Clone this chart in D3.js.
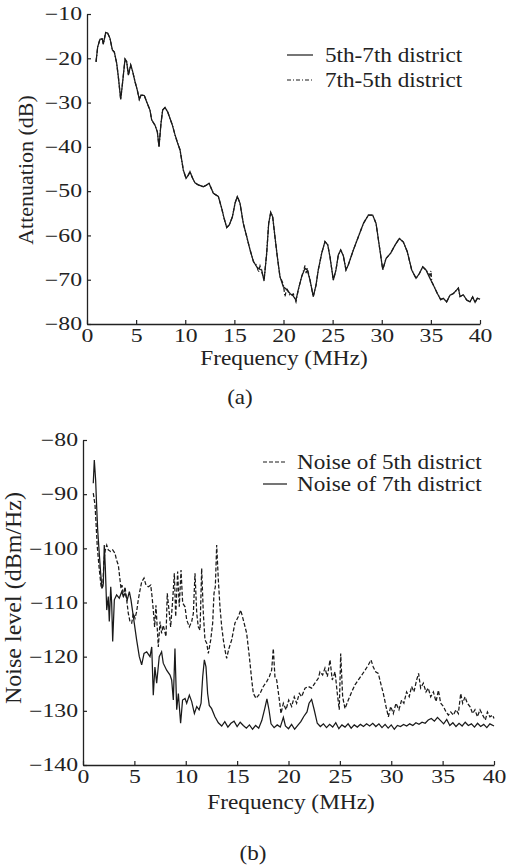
<!DOCTYPE html>
<html>
<head>
<meta charset="utf-8">
<script src="https://cdn.jsdelivr.net/npm/d3@7"></script>
<style>
  body { margin: 0; background: #fff; }
  text { font-family: "Liberation Serif", "Times New Roman", Times, serif; fill: #222; }
</style>
</head>
<body>
<svg id="fig" width="512" height="865"></svg>
<script>
// (a) attenuation, [MHz, dB]
const att57 = [[0.92,-20.8],[1.09,-17.4],[1.32,-15.7],[1.56,-15.6],[1.66,-16.8],[1.9,-14.2],[2.1,-14.3],[2.34,-15.5],[2.58,-18.1],[2.78,-18.6],[3.02,-21.1],[3.19,-24.2],[3.43,-29.3],[3.63,-25.3],[3.87,-20.2],[4.04,-20.8],[4.21,-23.8],[4.45,-21.5],[4.65,-23.0],[4.89,-25.3],[5.12,-27.2],[5.32,-29.3],[5.5,-28.3],[5.83,-28.4],[6.07,-29.8],[6.41,-31.7],[6.58,-33.9],[6.92,-35.1],[7.16,-36.6],[7.33,-40.0],[7.53,-34.7],[7.7,-31.7],[7.94,-31.1],[8.21,-32.1],[8.45,-33.6],[8.69,-35.1],[8.96,-37.3],[9.23,-39.2],[9.47,-40.7],[9.64,-43.0],[9.8,-45.2],[10.08,-47.1],[10.31,-46.4],[10.48,-45.6],[10.75,-47.1],[10.99,-48.1],[11.33,-48.6],[11.84,-49.0],[12.18,-48.6],[12.42,-48.2],[12.86,-50.5],[13.37,-51.2],[13.71,-53.9],[13.95,-56.1],[14.22,-58.2],[14.49,-57.6],[14.8,-55.8],[15.07,-52.7],[15.3,-51.2],[15.57,-52.7],[15.91,-57.3],[16.26,-60.3],[16.6,-63.3],[16.94,-65.9],[17.28,-67.1],[17.61,-67.7],[17.78,-67.8],[18.02,-70.3],[18.29,-64.0],[18.49,-57.3],[18.7,-54.8],[18.9,-55.8],[19.13,-60.3],[19.37,-64.8],[19.64,-69.3],[19.98,-71.6],[20.33,-72.2],[20.66,-73.1],[21.0,-73.7],[21.27,-74.6],[21.5,-72.3],[21.85,-69.3],[22.19,-67.4],[22.42,-67.8],[22.7,-70.1],[23.03,-73.8],[23.31,-71.2],[23.54,-67.8],[23.89,-64.0],[24.22,-61.4],[24.5,-62.1],[24.73,-64.8],[25.07,-70.1],[25.34,-67.8],[25.58,-64.4],[25.82,-63.3],[26.09,-64.6],[26.36,-67.8],[26.6,-66.6],[27.11,-63.3],[27.62,-60.3],[28.13,-57.3],[28.64,-55.4],[29.08,-55.4],[29.42,-57.3],[29.76,-62.5],[30.1,-67.7],[30.44,-65.2],[30.91,-64.0],[31.35,-62.2],[31.79,-60.7],[32.2,-61.5],[32.6,-63.7],[33.05,-67.8],[33.49,-69.7],[33.83,-68.6],[34.17,-67.1],[34.5,-67.8],[34.91,-69.7],[35.25,-71.2],[35.66,-73.1],[36.0,-74.5],[36.27,-74.2],[36.6,-75.0],[36.95,-73.5],[37.3,-73.1],[37.63,-72.3],[37.8,-71.9],[37.97,-73.8],[38.3,-73.4],[38.65,-74.6],[38.98,-75.0],[39.25,-73.9],[39.5,-75.1],[39.73,-74.2],[40.0,-74.4]];
const att75 = [[0.92,-20.8],[1.09,-17.4],[1.32,-15.7],[1.56,-15.6],[1.66,-16.8],[1.9,-14.2],[2.1,-14.3],[2.34,-15.5],[2.58,-18.1],[2.78,-18.6],[3.02,-21.1],[3.19,-24.2],[3.43,-29.3],[3.63,-25.3],[3.87,-20.2],[4.04,-20.8],[4.21,-23.8],[4.45,-21.5],[4.65,-23.0],[4.89,-25.3],[5.12,-27.2],[5.32,-29.3],[5.5,-28.3],[5.83,-28.4],[6.07,-29.8],[6.41,-31.7],[6.58,-33.9],[6.92,-35.1],[7.16,-36.6],[7.33,-40.0],[7.53,-34.7],[7.7,-31.7],[7.94,-31.1],[8.21,-32.1],[8.45,-33.6],[8.69,-35.1],[8.96,-37.3],[9.23,-39.2],[9.47,-40.7],[9.64,-43.0],[9.8,-45.2],[10.08,-47.1],[10.31,-46.4],[10.48,-45.6],[10.75,-47.1],[10.99,-48.1],[11.33,-48.6],[11.84,-49.0],[12.18,-48.6],[12.42,-48.2],[12.86,-50.5],[13.37,-51.2],[13.71,-53.9],[13.95,-56.1],[14.22,-58.2],[14.49,-57.6],[14.8,-55.8],[15.07,-52.7],[15.3,-51.2],[15.57,-52.7],[15.91,-57.3],[16.26,-60.3],[16.6,-63.3],[16.94,-65.9],[17.28,-66.8],[17.45,-68.3],[17.61,-66.9],[17.78,-68.2],[18.02,-70.0],[18.29,-64.0],[18.49,-57.3],[18.7,-54.8],[18.9,-55.8],[19.13,-60.3],[19.37,-64.8],[19.64,-69.3],[19.98,-71.0],[20.15,-73.8],[20.33,-71.9],[20.66,-73.6],[21.0,-73.2],[21.27,-75.0],[21.5,-72.3],[21.85,-69.3],[22.19,-66.8],[22.3,-68.5],[22.42,-67.4],[22.7,-70.1],[23.03,-73.8],[23.31,-71.2],[23.54,-67.8],[23.89,-64.0],[24.22,-61.4],[24.5,-62.1],[24.73,-64.8],[25.07,-70.1],[25.34,-67.8],[25.58,-64.4],[25.82,-63.3],[26.09,-64.6],[26.36,-67.8],[26.6,-66.6],[27.11,-63.3],[27.62,-60.3],[28.13,-57.3],[28.64,-55.4],[29.08,-55.4],[29.42,-57.3],[29.76,-62.5],[30.1,-67.7],[30.44,-65.2],[30.91,-64.0],[31.35,-62.2],[31.79,-60.7],[32.2,-61.5],[32.6,-63.7],[33.05,-67.8],[33.49,-69.7],[33.83,-68.6],[34.17,-67.1],[34.5,-67.8],[34.91,-69.0],[35.0,-68.0],[35.1,-70.5],[35.25,-71.2],[35.66,-73.1],[36.0,-74.5],[36.27,-74.2],[36.6,-75.0],[36.95,-73.5],[37.3,-73.1],[37.63,-72.3],[37.8,-71.9],[37.97,-73.8],[38.3,-73.4],[38.65,-74.6],[38.98,-75.0],[39.25,-73.9],[39.5,-75.1],[39.73,-74.2],[40.0,-74.4]];

// (b) noise level, [MHz, dBm/Hz]
const noise5 = [[1.0,-89.8],[1.17,-92.0],[1.27,-95.4],[1.39,-99.7],[1.59,-104.0],[1.78,-107.4],[1.92,-107.1],[2.04,-102.2],[2.17,-100.3],[2.31,-99.4],[2.46,-100.3],[2.69,-100.6],[2.89,-100.3],[3.11,-100.9],[3.27,-102.2],[3.44,-103.1],[3.6,-105.8],[3.7,-107.4],[3.8,-106.8],[3.93,-108.9],[4.09,-107.1],[4.25,-109.5],[4.41,-112.0],[4.57,-113.5],[4.74,-113.8],[4.9,-112.0],[5.06,-112.9],[5.22,-111.7],[5.38,-109.5],[5.55,-107.7],[5.71,-106.2],[5.94,-105.5],[6.13,-106.8],[6.36,-107.1],[6.59,-106.8],[6.72,-108.9],[6.84,-111.4],[6.97,-114.5],[7.1,-110.5],[7.33,-118.2],[7.5,-113.5],[7.65,-115.7],[7.81,-114.2],[8.08,-116.3],[8.2,-108.3],[8.4,-112.0],[8.53,-114.5],[8.73,-109.5],[8.89,-104.6],[9.02,-112.6],[9.21,-104.3],[9.37,-110.8],[9.54,-104.0],[9.7,-110.1],[9.93,-110.8],[10.09,-113.2],[10.35,-114.5],[10.58,-113.5],[10.74,-112.0],[10.9,-104.6],[11.07,-112.0],[11.22,-114.5],[11.39,-115.1],[11.55,-103.7],[11.71,-112.0],[11.87,-116.9],[12.04,-117.5],[12.2,-119.4],[12.43,-116.9],[12.62,-113.8],[12.75,-108.3],[12.88,-107.1],[13.01,-99.4],[13.17,-105.8],[13.33,-110.8],[13.5,-114.5],[13.66,-116.9],[13.82,-118.8],[13.98,-120.3],[14.2,-118.5],[14.47,-116.9],[14.79,-113.8],[15.12,-112.6],[15.35,-111.4],[15.6,-113.2],[15.93,-115.7],[16.19,-120.0],[16.42,-124.3],[16.58,-126.8],[16.84,-127.7],[17.23,-126.8],[17.55,-125.5],[17.88,-124.6],[18.13,-123.7],[18.36,-122.5],[18.52,-118.5],[18.68,-123.7],[18.85,-124.3],[19.11,-128.0],[19.27,-130.5],[19.5,-128.6],[19.76,-129.8],[20.02,-128.0],[20.31,-129.2],[20.56,-127.4],[20.79,-128.6],[21.05,-126.8],[21.28,-127.4],[21.61,-125.8],[21.93,-125.5],[22.25,-125.8],[22.57,-124.9],[22.9,-124.0],[23.06,-122.8],[23.32,-123.4],[23.55,-122.1],[23.78,-123.7],[24.04,-120.6],[24.26,-124.3],[24.53,-122.8],[24.75,-126.8],[24.94,-129.8],[25.08,-119.4],[25.27,-127.4],[25.5,-129.6],[25.82,-128.0],[26.15,-126.5],[26.47,-125.2],[26.8,-124.3],[27.13,-123.4],[27.45,-122.5],[27.78,-121.5],[28.03,-120.6],[28.25,-121.9],[28.48,-122.8],[28.74,-123.1],[28.97,-124.9],[29.23,-126.8],[29.49,-129.2],[29.72,-131.1],[29.95,-129.2],[30.2,-130.5],[30.46,-128.6],[30.75,-129.8],[31.01,-128.0],[31.23,-128.6],[31.49,-126.5],[31.75,-127.4],[31.98,-125.5],[32.21,-126.5],[32.47,-124.3],[32.66,-123.1],[32.86,-125.8],[33.12,-124.9],[33.38,-126.5],[33.6,-125.8],[33.84,-127.4],[34.1,-126.5],[34.36,-128.3],[34.59,-126.2],[34.81,-128.6],[35.08,-129.2],[35.33,-130.2],[35.56,-130.8],[35.79,-130.2],[36.04,-130.8],[36.3,-129.8],[36.53,-130.5],[36.76,-126.8],[36.95,-128.6],[37.18,-127.4],[37.4,-128.6],[37.66,-129.2],[37.92,-130.5],[38.15,-129.8],[38.38,-131.1],[38.64,-129.8],[38.9,-130.8],[39.16,-131.7],[39.36,-130.2],[39.6,-131.1],[39.87,-130.8],[40.0,-131.4]];
const noise7 = [[1.0,-88.0],[1.1,-83.7],[1.23,-87.4],[1.33,-92.3],[1.43,-96.6],[1.56,-100.3],[1.72,-104.6],[1.85,-107.4],[1.98,-106.5],[2.07,-99.4],[2.17,-103.4],[2.31,-111.4],[2.46,-108.9],[2.56,-113.5],[2.7,-107.1],[2.79,-110.1],[2.89,-117.2],[3.05,-109.5],[3.27,-108.6],[3.53,-109.2],[3.77,-108.0],[3.93,-108.9],[4.09,-108.3],[4.31,-109.5],[4.51,-108.0],[4.67,-109.5],[4.9,-112.6],[5.22,-116.9],[5.48,-120.0],[5.71,-121.5],[5.94,-119.4],[6.2,-119.1],[6.52,-120.0],[6.69,-118.2],[6.84,-127.1],[7.0,-121.9],[7.17,-124.9],[7.42,-120.0],[7.65,-119.1],[7.81,-121.2],[8.14,-122.5],[8.47,-123.4],[8.63,-124.3],[8.79,-128.0],[8.95,-118.5],[9.12,-129.8],[9.28,-126.8],[9.5,-132.3],[9.69,-128.0],[9.93,-127.7],[10.09,-128.6],[10.35,-127.1],[10.58,-128.3],[10.84,-130.5],[11.07,-129.2],[11.3,-129.8],[11.49,-128.6],[11.65,-123.7],[11.81,-120.6],[11.97,-121.9],[12.13,-126.8],[12.29,-129.0],[12.52,-129.6],[12.84,-131.1],[13.17,-132.2],[13.5,-132.8],[13.8,-132.0],[14.1,-133.0],[14.4,-132.3],[14.7,-131.9],[15.0,-132.9],[15.3,-132.1],[15.6,-132.7],[15.9,-133.2],[16.2,-132.6],[16.5,-133.4],[16.8,-132.7],[17.1,-133.2],[17.4,-131.8],[17.7,-129.5],[17.9,-127.8],[18.1,-129.8],[18.3,-132.4],[18.6,-133.1],[18.9,-132.6],[19.2,-133.0],[19.5,-131.2],[19.7,-132.8],[20.0,-133.3],[20.3,-132.5],[20.6,-133.4],[20.9,-132.7],[21.2,-132.0],[21.5,-131.0],[21.8,-130.2],[22.0,-128.6],[22.25,-127.9],[22.5,-129.8],[22.8,-132.3],[23.1,-132.9],[23.4,-132.4],[23.7,-133.1],[24.0,-132.5],[24.3,-133.0],[24.6,-132.2],[24.9,-133.3],[25.2,-132.6],[25.5,-133.0],[25.8,-132.4],[26.1,-133.2],[26.4,-132.6],[26.7,-133.0],[27.0,-132.5],[27.3,-132.9],[27.6,-132.4],[27.9,-132.8],[28.2,-132.3],[28.5,-132.9],[28.8,-132.4],[29.1,-133.1],[29.4,-132.5],[29.7,-133.2],[30.0,-132.6],[30.3,-133.4],[30.6,-132.7],[30.9,-132.9],[31.2,-132.5],[31.5,-132.8],[31.8,-132.4],[32.1,-132.7],[32.4,-132.2],[32.7,-132.5],[33.0,-132.1],[33.3,-132.3],[33.6,-131.7],[33.9,-131.4],[34.2,-131.9],[34.5,-131.2],[34.8,-131.8],[35.1,-132.4],[35.4,-131.6],[35.7,-132.7],[36.0,-132.2],[36.3,-132.9],[36.6,-132.3],[36.9,-132.8],[37.2,-132.1],[37.5,-132.7],[37.8,-132.4],[38.1,-133.0],[38.4,-132.3],[38.7,-132.9],[39.0,-132.5],[39.3,-133.1],[39.6,-132.4],[40.0,-132.8]];

const freqTicks = [0, 5, 10, 15, 20, 25, 30, 35, 40];
const attTicks = [-80, -70, -60, -50, -40, -30, -20, -10];
const noiseTicks = [-140, -130, -120, -110, -100, -90, -80];

const svg = d3.select('#fig');

// the source figure is scaled wider than tall, so its text is stretched sideways
function widen(sel, k) {
    sel.each(function() {
        const t = d3.select(this);
        const x0 = +t.attr('x') || 0;
        t.attr('x', x0 / k).attr('transform', `scale(${k},1)`);
    });
}

function label(parent, x, y, k, size, txt, anchor) {
    return parent.append('text')
        .attr('transform', `translate(${x},${y}) scale(${k},1)`)
        .attr('text-anchor', anchor).attr('dy', '0.35em')
        .attr('font-size', size).text(txt);
}

function panel(opt) {
    const x = d3.scaleLinear().domain([0, 40]).range([opt.left, opt.right]);
    const y = d3.scaleLinear().domain(opt.yDomain).range([opt.bottom, opt.top]);
    const g = svg.append('g');

    const xAxis = g.append('g')
        .attr('transform', `translate(0,${opt.bottom})`)
        .call(d3.axisBottom(x).tickValues(freqTicks).tickSize(-4).tickSizeOuter(0).tickPadding(5));
    const yAxis = g.append('g')
        .attr('transform', `translate(${opt.left},0)`)
        .call(d3.axisLeft(y).tickValues(opt.yTicks).tickSize(-4).tickSizeOuter(0).tickPadding(5));

    [xAxis, yAxis].forEach(a => {
        a.select('.domain').attr('stroke', '#222').attr('stroke-width', 1.3);
        a.selectAll('.tick line').attr('stroke', '#222').attr('stroke-width', 1.2);
        a.selectAll('text').attr('font-size', 18).attr('fill', '#222');
        widen(a.selectAll('text'), 1.32);
    });

    const line = d3.line().x(d => x(d[0])).y(d => y(d[1]));
    opt.series.forEach(s => {
        g.append('path')
            .datum(s.data)
            .attr('d', line)
            .attr('fill', 'none')
            .attr('stroke', '#1a1a1a')
            .attr('stroke-width', 1.25)
            .attr('stroke-dasharray', s.dash);
    });

    label(g, opt.xTitle[0], opt.xTitle[1], 1.11, 21, 'Frequency (MHz)', 'middle');

    g.append('text')
        .attr('transform', `translate(${opt.yTitle[0]},${opt.yTitle[1]}) rotate(-90)`)
        .attr('text-anchor', 'middle').attr('dy', '0.35em')
        .attr('font-size', opt.yTitleSize).text(opt.yLabel);

    const lg = g.append('g');
    opt.series.forEach((s, i) => {
        const ly = opt.legend.y + i * opt.legend.gap;
        lg.append('line')
            .attr('x1', opt.legend.x1).attr('x2', opt.legend.x2)
            .attr('y1', ly).attr('y2', ly)
            .attr('stroke', '#1a1a1a').attr('stroke-width', 1.2)
            .attr('stroke-dasharray', s.dash);
        label(lg, opt.legend.tx, ly, opt.legend.k, 20, s.name, 'start');
    });

    label(g, opt.tag[0], opt.tag[1], 1.1, 21, opt.tagText, 'middle');
}

panel({
    left: 87, right: 480, top: 14, bottom: 324,
    yDomain: [-80, -10], yTicks: attTicks,
    yLabel: 'Attenuation (dB)', yTitle: [25, 170], yTitleSize: 22,
    xTitle: [284, 358],
    series: [
        { name: '5th-7th district', data: att57, dash: null },
        { name: '7th-5th district', data: att75, dash: '4,2,1,2' }
    ],
    legend: { x1: 287, x2: 313, tx: 325, y: 55, gap: 25, k: 1.16 },
    tag: [240, 397], tagText: '(a)'
});

panel({
    left: 83, right: 494, top: 440, bottom: 765,
    yDomain: [-140, -80], yTicks: noiseTicks,
    yLabel: 'Noise level (dBm/Hz)', yTitle: [13, 598], yTitleSize: 24,
    xTitle: [291, 802],
    series: [
        { name: 'Noise of 5th district', data: noise5, dash: '4,2' },
        { name: 'Noise of 7th district', data: noise7, dash: null }
    ],
    legend: { x1: 263, x2: 287, tx: 297, y: 462, gap: 22, k: 1.16 },
    tag: [253, 853], tagText: '(b)'
});
</script>
</body>
</html>
